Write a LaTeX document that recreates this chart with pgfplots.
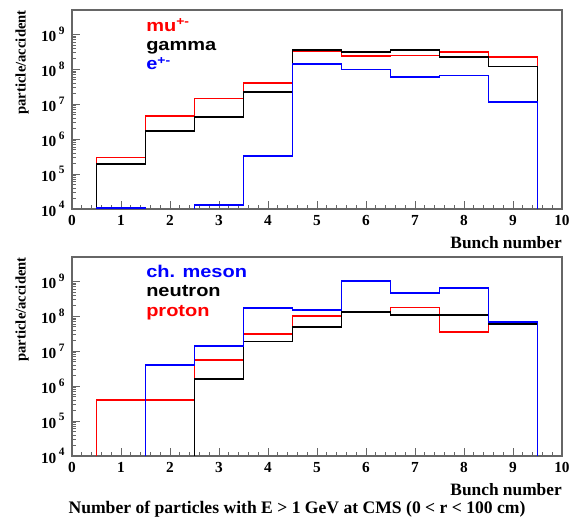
\documentclass[border=0pt]{standalone}
\usepackage{pgfplots}
\pgfplotsset{compat=1.18}
\usepackage{fontspec}
\setmainfont{Liberation Serif}
\newfontfamily\helv{Liberation Sans}
\definecolor{rred}{RGB}{255,0,0}
\definecolor{rblue}{RGB}{0,0,255}
\newcommand{\E}[1]{10\,\raisebox{0.5em}{\fontsize{8.5}{8.5}\selectfont #1}}
\newcommand{\leg}[1]{\scalebox{1}[0.85]{#1}}
\begin{document}
\begin{tikzpicture}[x=0.75pt,y=-0.75pt]
\useasboundingbox (0,0) rectangle (569,520);
% ---------- top panel
\begin{axis}[at={(54pt,-156.75pt)},
    ymode=log, scale only axis, width=367.5pt, height=149.25pt,
    xmin=0, xmax=10, ymin=1e4, ymax=5e9,
    anchor=south west,
    axis line style={black!60, line width=0.9pt},
    tick style={black!60, line width=0.6pt},
    tick align=inside, xtick pos=lower, ytick pos=left,
    major tick length=6pt, minor tick length=3pt,
    xtick={0,1,2,3,4,5,6,7,8,9,10},
    xticklabels={0,1,2,3,4,5,6,7,8,9,10},
    minor x tick num=4,
    ytick={1e4,1e5,1e6,1e7,1e8,1e9},
    yticklabels={\E{4},\E{5},\E{6},\E{7},\E{8},\E{9}},
    tick label style={font=\bfseries\fontsize{11.5}{11.5}\selectfont},
    yticklabel style={xshift=-2pt},
    xticklabel style={yshift=-1pt}]
\addplot[rred, const plot mark left, line width=1.3pt, mark=none] coordinates {(0.5,1) (0.5,3.0e5) (1.5,4.5e6) (2.5,1.45e7) (3.5,4.0e7) (4.5,3.3e8) (5.5,2.4e8) (6.5,2.5e8) (7.5,3.1e8) (8.5,2.2e8) (9.5,1)};
\addplot[black, const plot mark left, line width=1.3pt, mark=none] coordinates {(0.5,1) (0.5,1.9e5) (1.5,1.7e6) (2.5,4.3e6) (3.5,2.2e7) (4.5,3.5e8) (5.5,3.2e8) (6.5,3.5e8) (7.5,2.2e8) (8.5,1.2e8) (9.5,1)};
\addplot[rblue, const plot mark left, line width=1.3pt, mark=none] coordinates {(0.5,1) (0.5,1.05e4) (1.5,1) (2.5,1.3e4) (3.5,3.3e5) (4.5,1.45e8) (5.5,9.8e7) (6.5,6.0e7) (7.5,6.6e7) (8.5,1.17e7) (9.5,1)};
\end{axis}
% ---------- bottom panel
\begin{axis}[at={(54pt,-342pt)},
    ymode=log, scale only axis, width=367.5pt, height=149.25pt,
    xmin=0, xmax=10, ymin=1e4, ymax=5e9,
    anchor=south west,
    axis line style={black!60, line width=0.9pt},
    tick style={black!60, line width=0.6pt},
    tick align=inside, xtick pos=lower, ytick pos=left,
    major tick length=6pt, minor tick length=3pt,
    xtick={0,1,2,3,4,5,6,7,8,9,10},
    xticklabels={0,1,2,3,4,5,6,7,8,9,10},
    minor x tick num=4,
    ytick={1e4,1e5,1e6,1e7,1e8,1e9},
    yticklabels={\E{4},\E{5},\E{6},\E{7},\E{8},\E{9}},
    tick label style={font=\bfseries\fontsize{11.5}{11.5}\selectfont},
    yticklabel style={xshift=-2pt},
    xticklabel style={yshift=-1pt}]
\addplot[rred, const plot mark left, line width=1.3pt, mark=none] coordinates {(0.5,1) (0.5,4.0e5) (1.5,4.0e5) (2.5,5.6e6) (3.5,3.1e7) (4.5,1.0e8) (5.5,1.3e8) (6.5,1.8e8) (7.5,3.6e7) (8.5,6.7e7) (9.5,1)};
\addplot[black, const plot mark left, line width=1.3pt, mark=none] coordinates {(2.5,1) (2.5,1.6e6) (3.5,1.9e7) (4.5,4.9e7) (5.5,1.3e8) (6.5,1.1e8) (7.5,1.1e8) (8.5,5.9e7) (9.5,1)};
\addplot[rblue, const plot mark left, line width=1.3pt, mark=none] coordinates {(1.5,1) (1.5,4.1e6) (2.5,1.38e7) (3.5,1.7e8) (4.5,1.55e8) (5.5,1.05e9) (6.5,4.6e8) (7.5,6.5e8) (8.5,6.9e7) (9.5,1)};
\end{axis}
% ---------- legends
\begin{scope}[every node/.style={anchor=base west, inner sep=0pt, font=\helv\bfseries\fontsize{15}{15}\selectfont}]
\node[text=rred] at (146,31.7) {\leg{mu\textsuperscript{+-}}};
\node[text=black] at (146,50.7) {\leg{gamma}};
\node[text=rblue] at (146,70) {\leg{e\textsuperscript{+-}}};
\node[text=rblue] at (146,277.3) {\leg{ch. meson}};
\node[text=black] at (146,296.7) {\leg{neutron}};
\node[text=rred] at (146,316.7) {\leg{proton}};
\end{scope}
% ---------- axis titles
\begin{scope}[every node/.style={inner sep=0pt, font=\bfseries\fontsize{11}{11}\selectfont}]
\node[rotate=90, anchor=east] at (22,10) {particle/accident};
\node[rotate=90, anchor=east] at (22,257) {particle/accident};
\end{scope}
\begin{scope}[every node/.style={inner sep=0pt, font=\bfseries\fontsize{13}{13}\selectfont}]
\node[anchor=east] at (562,243) {Bunch number};
\node[anchor=east] at (562,490) {Bunch number};
\end{scope}
\node[inner sep=0pt, font=\bfseries\fontsize{13.2}{13.2}\selectfont] at (297,509) {Number of particles with E {>} 1 GeV at CMS (0 {<} r {<} 100 cm)};
\end{tikzpicture}
\end{document}
